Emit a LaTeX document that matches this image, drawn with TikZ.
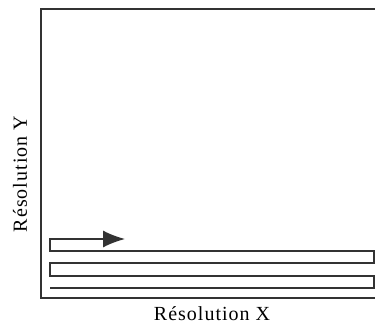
\documentclass[tikz,border=0pt]{standalone}
\usepackage{fontspec}
\setmainfont[LetterSpace=5]{Liberation Serif}
\usetikzlibrary{arrows.meta}
\begin{document}
\begin{tikzpicture}[x=1pt, y=1pt, line width=1.3pt, color=black!80,
  lbl/.style={text=black, font=\fontsize{20}{23}\selectfont, inner sep=0pt}]
\useasboundingbox (0,0) rectangle (375,327);
% cadre
\draw (376,318)--(41,318)--(41,29)--(376,29);
% balayage
\draw[-{Latex[length=22pt, width=17pt]}] (50,39)--(374,39)--(374,51)--(50,51)--(50,64)--(374,64)--(374,76)--(50,76)--(50,88)--(125,88);
\node[lbl] (resx) at (212,13) {Résolution X};
\node[lbl, rotate=90] (resy) at (20,153) {Résolution Y};
\end{tikzpicture}
\end{document}
